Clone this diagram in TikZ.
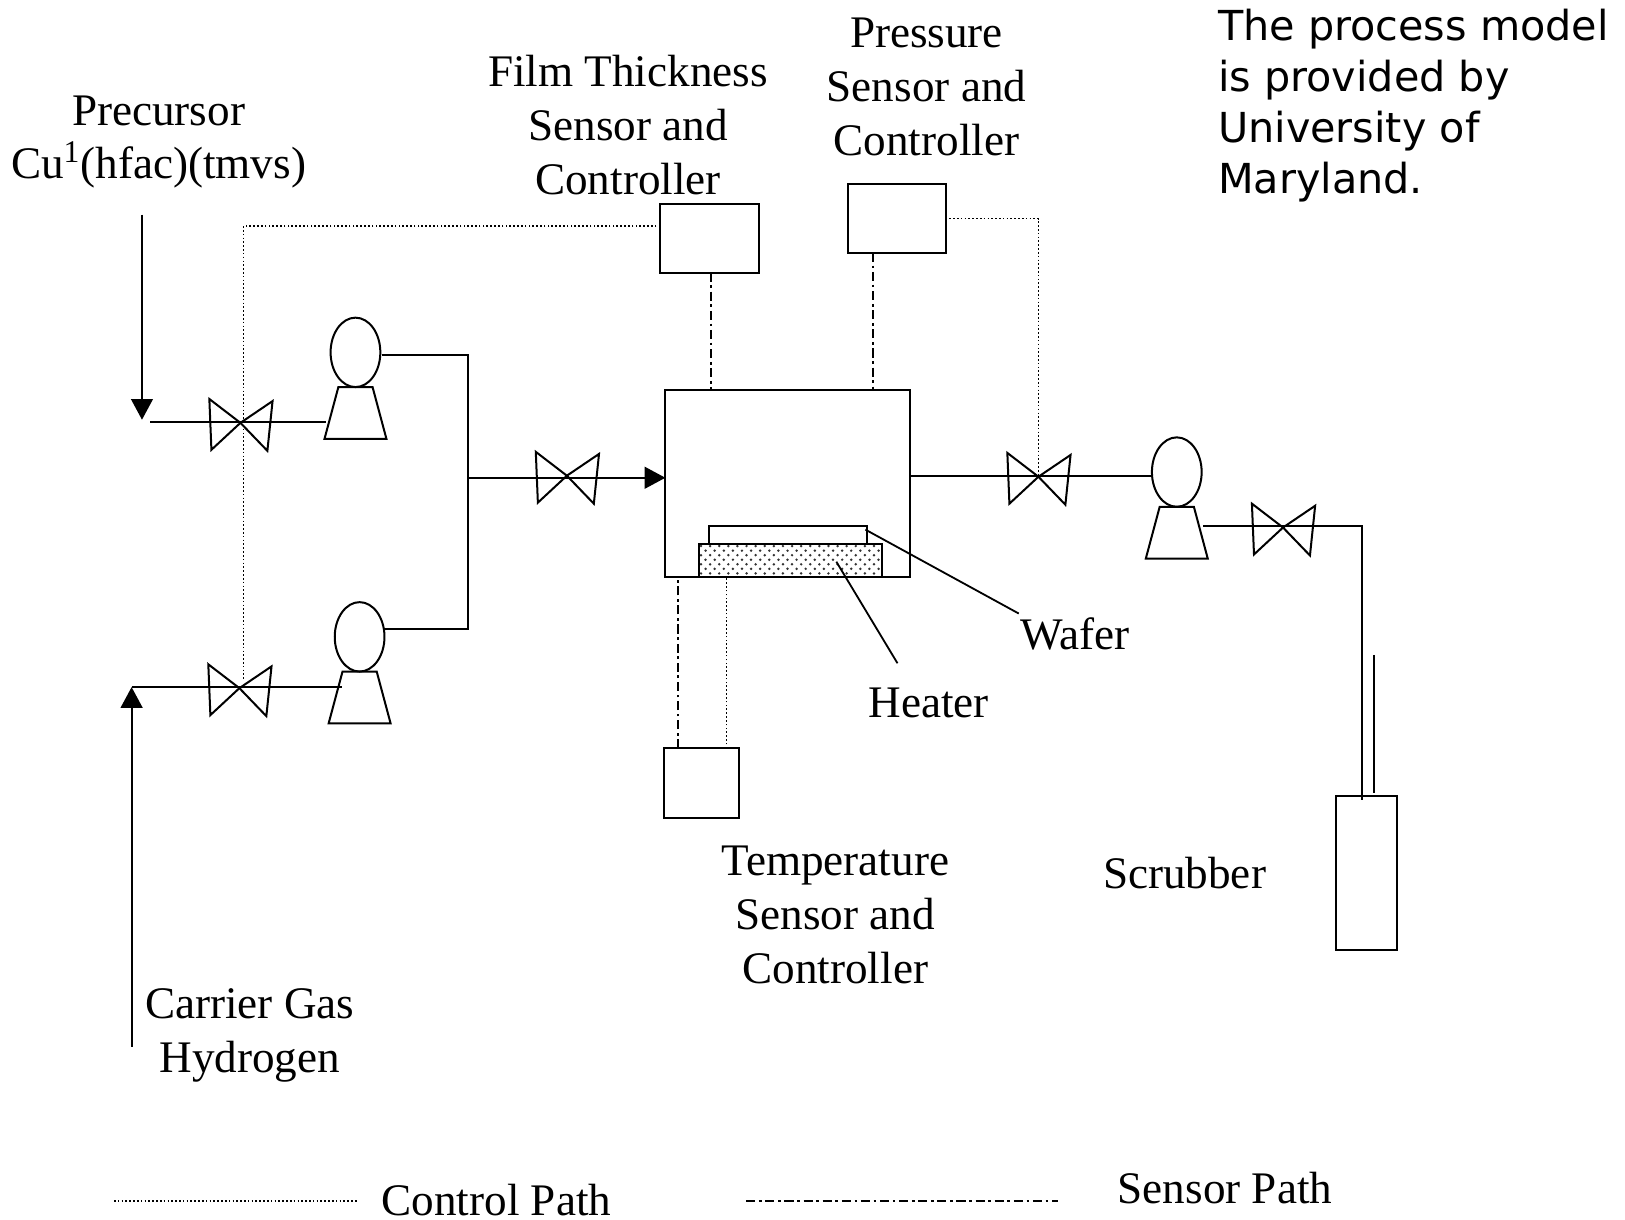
\documentclass[tikz,border=0pt]{standalone}
\usepackage{fontspec}
\setmainfont{Liberation Serif}
\newfontfamily\notefont{DejaVu Sans}
\usetikzlibrary{shapes,arrows.meta,positioning,patterns}

% staggered dots of the heater
\pgfdeclarepatternformonly{heaterdots}{\pgfqpoint{-1pt}{-1pt}}{\pgfqpoint{4pt}{4pt}}{\pgfqpoint{5pt}{5pt}}{%
  \pgfpathcircle{\pgfqpoint{0pt}{0pt}}{0.75pt}
  \pgfpathcircle{\pgfqpoint{2.5pt}{2.5pt}}{0.75pt}
  \pgfusepath{fill}
}

% bow-tie valve
\newcommand{\valve}[1]{%
  \draw[pipe] (#1) -- +(-30,-23) -- +(-28,26) -- cycle;
  \draw[pipe] (#1) -- +(31,-21) -- +(26,27) -- cycle;
}
% round head on a trapezium foot
\newcommand{\pump}[3]{%
  \node[pumphead] (#1) at (#2,#3) {};
  \node[pumpfoot, below=0pt of #1] (#1foot) {\phantom{\rule{0.66cm}{1cm}}};
}

\begin{document}
\begin{tikzpicture}[
    x=0.02cm, y=-0.02cm,
    pipe/.style={line width=1.1pt},
    flow/.style={pipe, -{Triangle[width=0.42cm,length=0.4cm]}},
    controlpath/.style={line width=0.8pt, dash pattern=on 0.9pt off 1.2pt},
    sensorpath/.style={line width=1.1pt, dash pattern=on 5pt off 2pt on 1.5pt off 2pt},
    boxnode/.style={draw, line width=1.1pt, inner sep=0pt, outer sep=0pt},
    pumphead/.style={draw, ellipse, line width=1.1pt, inner sep=0pt, outer sep=0pt, minimum width=0.96cm, minimum height=1.34cm},
    pumpfoot/.style={draw, trapezium, trapezium left angle=75, trapezium right angle=75, line width=1.1pt, inner sep=0pt, outer sep=0pt},
    lbl/.style={font=\fontsize{24.8pt}{29.6pt}\selectfont, align=center, inner sep=0pt},
    note/.style={font=\fontsize{22.7pt}{28.1pt}\selectfont\notefont, align=left, inner sep=0pt}
]
\useasboundingbox (0,0) rectangle (1568,1177);

% chamber and instruments
\node[boxnode, minimum width=4.72cm, minimum height=3.62cm] (chamber) at (760,466.5) {};
\node[boxnode, minimum width=3.06cm, minimum height=0.34cm] (wafer) at (760.5,516.5) {};
\node[boxnode, minimum width=3.54cm, minimum height=0.64cm, pattern=heaterdots, pattern color=black!80] (heater) at (762.5,541) {};
\node[boxnode, minimum width=1.9cm, minimum height=1.32cm] (filmbox) at (684.5,230) {};
\node[boxnode, minimum width=1.9cm, minimum height=1.32cm] (pressbox) at (865.5,211) {};
\node[boxnode, minimum width=1.44cm, minimum height=1.34cm] (tempbox) at (677,755.5) {};
\node[boxnode, minimum width=1.18cm, minimum height=2.98cm] (scrubber) at (1318.5,842.5) {};

% pumps
\pump{pumpa}{343}{340}
\pump{pumpb}{347}{614.5}
\pump{pumpc}{1135.5}{455.5}

% valves
\coordinate (va) at (232,408);
\coordinate (vb) at (231,664);
\coordinate (vc) at (547,459);
\coordinate (vd) at (1002,460);
\coordinate (ve) at (1238,509);
\valve{va}
\valve{vb}
\valve{vc}
\valve{vd}
\valve{ve}

% free ends
\coordinate (prestart) at (137,207);
\coordinate (preend) at (137,405);
\coordinate (gasstart) at (127,1010);
\coordinate (gasend) at (127,663);
\coordinate (tee) at (452,461);
\coordinate (stub) at (1326,632);

% feed lines
\draw[flow] (prestart) -- (preend);
\draw[flow] (gasstart) -- (gasend);
\draw[pipe] (145,407) -- (315,407);
\draw[pipe] (gasend) -- (330,663);
\draw[pipe] (369,343) -| (tee) |- (371,607);
\draw[flow] (tee) -- (chamber.west |- tee);

% outlet
\draw[pipe] (878,459) -- (pumpc.west |- 878,459);
\draw[pipe] (1161,508) -| (1314,772);
\draw[pipe] (stub) -- (1326,765);

% leaders
\draw[line width=1pt] (835,511) -- (983,592);
\draw[line width=1pt] (807,542) -- (866,640);

% control paths
\draw[controlpath] (filmbox.west |- 0,218) -| (235,656);
\draw[controlpath] (916,211) -| (vd);
\draw[controlpath] ([xshift=0.48cm]tempbox.north) -- ([xshift=0.48cm]tempbox.north |- chamber.south);

% sensor paths
\draw[sensorpath] ([xshift=0.04cm]filmbox.south) -- ([xshift=0.04cm]filmbox.south |- chamber.north);
\draw[sensorpath] ([xshift=-0.47cm]pressbox.south) -- ([xshift=-0.47cm]pressbox.south |- chamber.north);
\draw[sensorpath] ([xshift=-0.46cm]tempbox.north) -- ([xshift=-0.46cm]tempbox.north |- chamber.south);

% labels
\node[lbl] (prelabel) at (153,137) {Precursor\\Cu\textsuperscript{1}(hfac)(tmvs)};
\node[lbl] (filmlabel) at (606,121) {Film Thickness\\Sensor and\\Controller};
\node[lbl] (presslabel) at (894,83.5) {Pressure\\Sensor and\\Controller};
\node[lbl] (templabel) at (806,882.5) {Temperature\\Sensor and\\Controller};
\node[lbl] (gaslabel) at (241,999) {Carrier Gas\\Hydrogen};
\node[lbl] (waferlabel) at (1037,612) {Wafer};
\node[lbl] (heaterlabel) at (896,678) {Heater};
\node[lbl] (scrublabel) at (1143,842) {Scrubber};
\node[note, anchor=west] (notelabel) at (1175,102) {The process model\\is provided by\\University of\\Maryland.};

% legend
\coordinate (ctlstart) at (110,1159);
\coordinate (ctlend) at (345,1159);
\coordinate (senstart) at (720,1159);
\coordinate (senend) at (1021,1159);
\draw[controlpath] (ctlstart) -- (ctlend);
\draw[sensorpath] (senstart) -- (senend);
\node[lbl] (ctllabel) at (479,1157.5) {Control Path};
\node[lbl] (senlabel) at (1182,1146) {Sensor Path};
\end{tikzpicture}
\end{document}
